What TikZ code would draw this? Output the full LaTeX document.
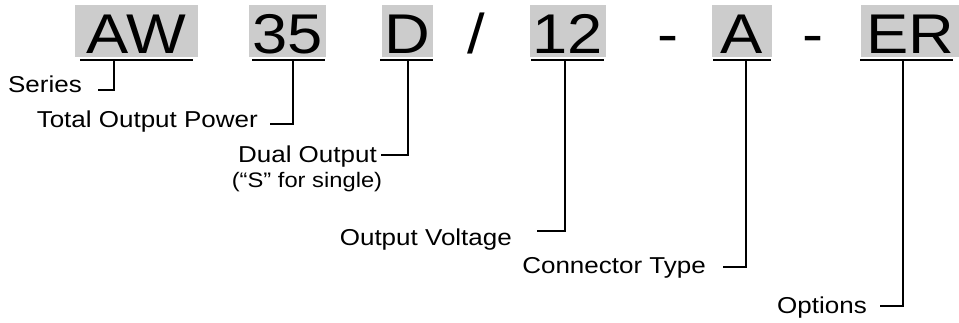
\documentclass[tikz,border=0pt]{standalone}
\usepackage{fontspec}
\setmainfont[FakeStretch=1.13]{Liberation Sans}
\definecolor{codegray}{HTML}{CCCCCC}
\newcommand\bigfnt{\fontsize{56}{60}\selectfont}
\newcommand\labfnt{\fontsize{23}{27}\selectfont}
\newcommand\smlfnt{\fontsize{21}{24}\selectfont}
\begin{document}
\begin{tikzpicture}[x=1pt,y=-1pt,
  codebox/.style={fill=codegray, inner sep=0pt, minimum height=52pt, text height=44pt, text depth=0pt, font=\bigfnt},
  septext/.style={inner sep=0pt, anchor=base, font=\bigfnt},
  lab/.style={inner sep=0pt, anchor=base east, font=\labfnt},
  uline/.style={line width=1.8pt},
  conn/.style={line width=1.8pt}]
\useasboundingbox (0,0) rectangle (959,322);
% code boxes
\node[codebox, minimum width=123pt] (aw) at (136.5,31) {AW};
\node[codebox, minimum width=77pt] (n35) at (287.5,31) {35};
\node[codebox, minimum width=51pt] (d) at (407.5,31) {D};
\node[codebox, minimum width=76pt] (n12) at (568,31) {12};
\node[codebox, minimum width=60pt] (a) at (742,31) {A};
\node[codebox, minimum width=98pt] (er) at (910,31) {ER};
% separators
\node[septext] (s1) at (476,53) {/};
\node[septext] (s2) at (668,53) {-};
\node[septext] (s3) at (813,53) {-};
% underlines
\coordinate (u1a) at (80,60);  \coordinate (u1b) at (193,60);
\coordinate (u2a) at (252,60); \coordinate (u2b) at (325,60);
\coordinate (u3a) at (380,60); \coordinate (u3b) at (433,60);
\coordinate (u4a) at (531,60); \coordinate (u4b) at (604,60);
\coordinate (u5a) at (713,60); \coordinate (u5b) at (771,60);
\coordinate (u6a) at (860,60); \coordinate (u6b) at (953,60);
\draw[uline] (u1a) -- (u1b);
\draw[uline] (u2a) -- (u2b);
\draw[uline] (u3a) -- (u3b);
\draw[uline] (u4a) -- (u4b);
\draw[uline] (u5a) -- (u5b);
\draw[uline] (u6a) -- (u6b);
% labels
\node[lab] (l1) at (82,92) {Series};
\node[lab] (l2) at (258,127) {Total Output Power};
\node[lab] (l3) at (377,162) {Dual Output};
\node[inner sep=0pt, anchor=base, font=\smlfnt] (l3b) at (307,187) {(“S” for single)};
\node[lab] (l4) at (512,245) {Output Voltage};
\node[lab] (l5) at (706,273) {Connector Type};
\node[lab] (l6) at (867,313) {Options};
% taps and hook ends
\coordinate (t1) at (114,60); \coordinate (h1) at (98,90);
\coordinate (t2) at (293,60); \coordinate (h2) at (270,124);
\coordinate (t3) at (408,60); \coordinate (h3) at (381,155);
\coordinate (t4) at (565,60); \coordinate (h4) at (537,231);
\coordinate (t5) at (746,60); \coordinate (h5) at (723,267);
\coordinate (t6) at (903,60); \coordinate (h6) at (880,306);
\draw[conn] (t1) |- (h1);
\draw[conn] (t2) |- (h2);
\draw[conn] (t3) |- (h3);
\draw[conn] (t4) |- (h4);
\draw[conn] (t5) |- (h5);
\draw[conn] (t6) |- (h6);
\end{tikzpicture}
\end{document}
